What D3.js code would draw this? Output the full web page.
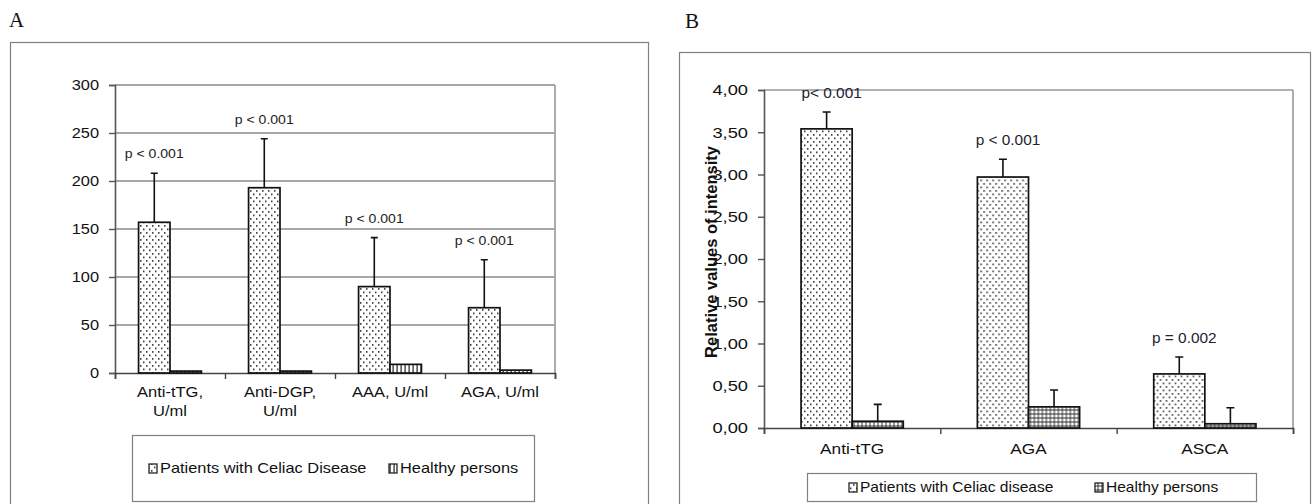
<!DOCTYPE html>
<html>
<head>
<meta charset="utf-8">
<script src="https://cdn.jsdelivr.net/npm/d3@7"></script>
<style>
  body { margin: 0; background: #fff; }
  svg { display: block; font-family: Arial, "Liberation Sans", sans-serif; }
</style>
</head>
<body>
<svg id="chart" width="1312" height="504"></svg>
<script>
// Panel A data
const catsA = ["Anti-tTG,\nU/ml", "Anti-DGP,\nU/ml", "AAA, U/ml", "AGA, U/ml"];
const patientsA = [157, 193, 90, 68];
const patientsSdA = [51, 51, 51, 50];
const healthyA = [2, 2, 9, 3];
const pLabelsA = ["p < 0.001", "p < 0.001", "p < 0.001", "p < 0.001"];
const ticksA = [0, 50, 100, 150, 200, 250, 300];

// Panel B data
const catsB = ["Anti-tTG", "AGA", "ASCA"];
const patientsB = [3.54, 2.97, 0.64];
const patientsSdB = [0.2, 0.21, 0.2];
const healthyB = [0.08, 0.25, 0.05];
const healthySdB = [0.2, 0.2, 0.19];
const pLabelsB = ["p< 0.001", "p < 0.001", "p = 0.002"];
const ticksB = [0, 0.5, 1, 1.5, 2, 2.5, 3, 3.5, 4];

const seriesNames = ["patients", "healthy"];

const svg = d3.select("#chart");
const defs = svg.append("defs");

// fill patterns
const dots = defs.append("pattern").attr("id", "dots")
    .attr("patternUnits", "userSpaceOnUse").attr("width", 6).attr("height", 7);
dots.append("rect").attr("width", 6).attr("height", 7).attr("fill", "#fff");
dots.append("rect").attr("x", 1).attr("y", 1).attr("width", 1.5).attr("height", 1.8).attr("fill", "#444");
dots.append("rect").attr("x", 4).attr("y", 4.5).attr("width", 1.5).attr("height", 1.8).attr("fill", "#444");

const vlines = defs.append("pattern").attr("id", "vlines")
    .attr("patternUnits", "userSpaceOnUse").attr("width", 4).attr("height", 4);
vlines.append("rect").attr("width", 4).attr("height", 4).attr("fill", "#fff");
vlines.append("rect").attr("x", 1.5).attr("width", 1.2).attr("height", 4).attr("fill", "#222");

const grid = defs.append("pattern").attr("id", "grid")
    .attr("patternUnits", "userSpaceOnUse").attr("width", 4).attr("height", 4);
grid.append("rect").attr("width", 4).attr("height", 4).attr("fill", "#fff");
grid.append("rect").attr("x", 1.5).attr("width", 1).attr("height", 4).attr("fill", "#333");
grid.append("rect").attr("y", 1.5).attr("width", 4).attr("height", 1).attr("fill", "#333");

// stretched text helper (source image is horizontally stretched)
const addText = (g, x, y, str, size, sx, anchor, extra) => {
    const t = g.append("text")
        .attr("transform", `translate(${x},${y}) scale(${sx},1)`)
        .attr("font-size", size)
        .attr("text-anchor", anchor)
        .attr("fill", (extra && extra.fill) || "#111")
        .text(str);
    if (extra && extra.weight) t.attr("font-weight", extra.weight);
    return t;
};

const drawPanel = (cfg) => {
    const g = svg.append("g");

    // panel letter + frame
    g.append("text")
        .attr("x", cfg.letterX).attr("y", cfg.letterY)
        .attr("font-family", "'Liberation Serif', 'Times New Roman', serif")
        .attr("font-size", 21)
        .attr("fill", "#111")
        .text(cfg.letter);
    g.append("rect")
        .attr("x", cfg.frame[0] + 0.5).attr("y", cfg.frame[1] + 0.5)
        .attr("width", cfg.frame[2]).attr("height", cfg.frame[3])
        .attr("fill", "none").attr("stroke", "#808080").attr("stroke-width", 1.2);

    const x0 = d3.scaleBand().domain(cfg.cats).range([cfg.left, cfg.right]);
    const x1 = d3.scaleBand().domain(seriesNames).range([0, x0.bandwidth()])
        .paddingOuter(cfg.outerPad);
    const y = d3.scaleLinear().domain(cfg.domain).range([cfg.bottom, cfg.top]);

    // gridlines
    if (cfg.gridlines) {
        g.selectAll(".grid")
            .data(cfg.ticks.filter(d => d > 0))
            .join("line")
            .attr("x1", cfg.left).attr("x2", cfg.right)
            .attr("y1", d => y(d)).attr("y2", d => y(d))
            .attr("stroke", "#8a8a8a").attr("stroke-width", 1.6);
    } else {
        g.append("line")
            .attr("x1", cfg.left).attr("x2", cfg.right)
            .attr("y1", cfg.top).attr("y2", cfg.top)
            .attr("stroke", "#999").attr("stroke-width", 1.6);
    }
    g.append("line")
        .attr("x1", cfg.right).attr("x2", cfg.right)
        .attr("y1", cfg.top).attr("y2", cfg.bottom)
        .attr("stroke", "#999").attr("stroke-width", 1.6);

    // y axis
    const yAxis = g.append("g")
        .attr("transform", `translate(${cfg.left},0)`)
        .call(d3.axisLeft(y).tickValues(cfg.ticks).tickSize(6).tickFormat(""));
    yAxis.select(".domain").attr("stroke", "#555").attr("stroke-width", 1.6);
    yAxis.selectAll(".tick line").attr("stroke", "#555").attr("stroke-width", 1.4);
    cfg.ticks.forEach(t => {
        addText(g, cfg.left - 16, y(t) + cfg.tickSize * 0.36, cfg.fmt(t), cfg.tickSize, cfg.tickStretch, "end");
    });

    // x axis with ticks at the group boundaries
    const xAxis = g.append("g")
        .attr("transform", `translate(0,${cfg.bottom})`)
        .call(d3.axisBottom(d3.scaleLinear().domain([0, cfg.cats.length]).range([cfg.left, cfg.right]))
            .ticks(cfg.cats.length).tickSize(6).tickFormat(""));
    xAxis.select(".domain").attr("stroke", "#444").attr("stroke-width", 1.6);
    xAxis.selectAll(".tick line").attr("stroke", "#444").attr("stroke-width", 1.4);

    // category labels
    cfg.cats.forEach(c => {
        c.split("\n").forEach((line, j) => {
            addText(g, x0(c) + x0.bandwidth() / 2, cfg.catY + j * cfg.catLine, line, cfg.catSize, cfg.catStretch, "middle");
        });
    });

    // bars
    const rows = cfg.cats.map((c, i) => ({
        cat: c,
        vals: [
            { s: "patients", v: cfg.patients[i], sd: cfg.patientsSd[i], fill: "url(#dots)" },
            { s: "healthy", v: cfg.healthy[i], sd: cfg.healthySd ? cfg.healthySd[i] : 0, fill: cfg.healthyFill }
        ],
        p: cfg.pLabels[i]
    }));

    const groups = g.selectAll(".grp")
        .data(rows)
        .join("g")
        .attr("transform", d => `translate(${x0(d.cat)},0)`);

    groups.selectAll("rect")
        .data(d => d.vals)
        .join("rect")
        .attr("x", d => x1(d.s))
        .attr("y", d => y(d.v))
        .attr("width", x1.bandwidth())
        .attr("height", d => y(0) - y(d.v))
        .attr("fill", d => d.fill)
        .attr("stroke", "#111")
        .attr("stroke-width", 1.7);

    // error bars (upper half only)
    groups.selectAll(".err")
        .data(d => d.vals.filter(v => v.sd > 0))
        .join("path")
        .attr("fill", "none").attr("stroke", "#111").attr("stroke-width", 1.6)
        .attr("d", d => {
            const cx = x1(d.s) + x1.bandwidth() / 2;
            const p = d3.path();
            p.moveTo(cx, y(d.v));
            p.lineTo(cx, y(d.v + d.sd));
            p.moveTo(cx - cfg.cap, y(d.v + d.sd));
            p.lineTo(cx + cfg.cap, y(d.v + d.sd));
            return p;
        });

    // p-value labels
    rows.forEach(r => {
        const pv = r.vals[0];
        addText(g, x0(r.cat) + x1("patients") + x1.bandwidth() / 2 + cfg.pDx, y(pv.v + pv.sd) - cfg.pGap,
            r.p, cfg.pSize, cfg.pStretch, "middle", { fill: cfg.pColor });
    });

    // y title
    if (cfg.yTitle) {
        g.append("text")
            .attr("transform", `translate(${cfg.yTitle.x},${cfg.yTitle.y}) rotate(-90)`)
            .attr("text-anchor", "middle")
            .attr("font-size", cfg.yTitle.size)
            .attr("font-weight", "bold")
            .attr("fill", "#111")
            .text(cfg.yTitle.text);
    }

    // legend
    const L = cfg.legend;
    g.append("rect")
        .attr("x", L.box[0] + 0.5).attr("y", L.box[1] + 0.5)
        .attr("width", L.box[2]).attr("height", L.box[3])
        .attr("fill", "#fff").attr("stroke", "#808080").attr("stroke-width", 1.2);
    L.items.forEach(it => {
        g.append("rect")
            .attr("x", it.x).attr("y", L.textY - 9)
            .attr("width", 8).attr("height", 9)
            .attr("fill", it.fill).attr("stroke", "#222").attr("stroke-width", 1.3);
        addText(g, it.x + 11, L.textY, it.label, L.size, L.stretch, "start");
    });
};

const fmtComma = d3.formatLocale({ decimal: ",", thousands: ".", grouping: [3], currency: ["", ""] }).format(".2f");

drawPanel({
    letter: "A", letterX: 9, letterY: 27,
    frame: [10, 42, 638, 480],
    cats: catsA, patients: patientsA, patientsSd: patientsSdA, healthy: healthyA, healthySd: null,
    healthyFill: "url(#vlines)", pLabels: pLabelsA,
    left: 115, right: 555, top: 85, bottom: 373, domain: [0, 300],
    ticks: ticksA, fmt: d3.format("d"), gridlines: true, outerPad: 0.75,
    tickSize: 14, tickStretch: 1.17,
    catY: 397, catLine: 19, catSize: 14, catStretch: 1.18,
    cap: 3.5, pDx: 0, pGap: 15, pSize: 12, pStretch: 1.17, pColor: "#222",
    legend: {
        box: [132, 435, 402, 66], textY: 473, size: 14, stretch: 1.17,
        items: [
            { x: 149, label: "Patients with Celiac Disease", fill: "url(#dots)" },
            { x: 389, label: "Healthy persons", fill: "url(#vlines)" }
        ]
    }
});

drawPanel({
    letter: "B", letterX: 685, letterY: 28,
    frame: [679, 52, 631, 470],
    cats: catsB, patients: patientsB, patientsSd: patientsSdB, healthy: healthyB, healthySd: healthySdB,
    healthyFill: "url(#grid)", pLabels: pLabelsB,
    left: 764, right: 1293, top: 90, bottom: 428, domain: [0, 4],
    ticks: ticksB, fmt: fmtComma, gridlines: false, outerPad: 0.725,
    tickSize: 15, tickStretch: 1.22,
    catY: 454, catLine: 18, catSize: 15, catStretch: 1.15,
    cap: 4, pDx: 5, pGap: 14, pSize: 14, pStretch: 1.1, pColor: "#1c2333",
    yTitle: { text: "Relative values of intensity", x: 717, y: 252, size: 16.5 },
    legend: {
        box: [807, 473, 449, 28], textY: 492, size: 14, stretch: 1.11,
        items: [
            { x: 849, label: "Patients with Celiac disease", fill: "url(#dots)" },
            { x: 1095, label: "Healthy persons", fill: "url(#grid)" }
        ]
    }
});
</script>
</body>
</html>
